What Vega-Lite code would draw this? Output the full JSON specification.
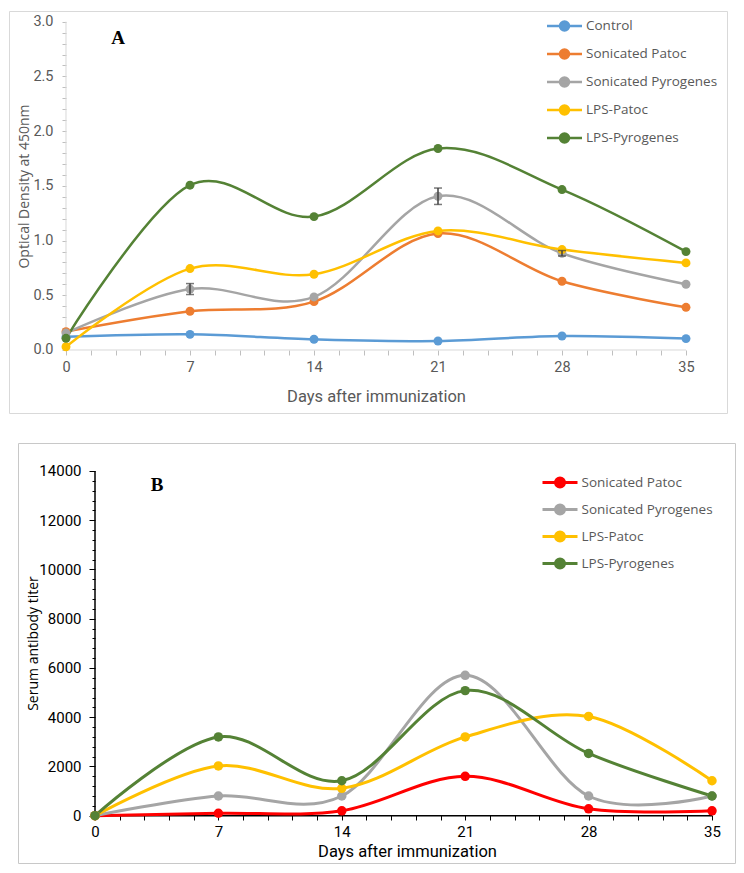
{
  "$schema": "https://vega.github.io/schema/vega-lite/v6.json",
  "padding": {"left": 8, "top": 10, "right": 0, "bottom": 0},
  "background": "white",
  "config": {"view": {"stroke": null}},
  "datasets": {
    "od": [
      {"series": "Control", "day": 0, "od": 0.12, "err": 0},
      {"series": "Control", "day": 7, "od": 0.143, "err": 0},
      {"series": "Control", "day": 14, "od": 0.098, "err": 0},
      {"series": "Control", "day": 21, "od": 0.082, "err": 0},
      {"series": "Control", "day": 28, "od": 0.128, "err": 0},
      {"series": "Control", "day": 35, "od": 0.104, "err": 0},
      {"series": "Sonicated Patoc", "day": 0, "od": 0.168, "err": 0},
      {"series": "Sonicated Patoc", "day": 7, "od": 0.354, "err": 0},
      {"series": "Sonicated Patoc", "day": 14, "od": 0.442, "err": 0},
      {"series": "Sonicated Patoc", "day": 21, "od": 1.064, "err": 0},
      {"series": "Sonicated Patoc", "day": 28, "od": 0.628, "err": 0},
      {"series": "Sonicated Patoc", "day": 35, "od": 0.39, "err": 0},
      {"series": "Sonicated Pyrogenes", "day": 0, "od": 0.155, "err": 0},
      {"series": "Sonicated Pyrogenes", "day": 7, "od": 0.557, "err": 0.05},
      {"series": "Sonicated Pyrogenes", "day": 14, "od": 0.485, "err": 0},
      {"series": "Sonicated Pyrogenes", "day": 21, "od": 1.405, "err": 0.075},
      {"series": "Sonicated Pyrogenes", "day": 28, "od": 0.884, "err": 0.025},
      {"series": "Sonicated Pyrogenes", "day": 35, "od": 0.601, "err": 0},
      {"series": "LPS-Patoc", "day": 0, "od": 0.03, "err": 0},
      {"series": "LPS-Patoc", "day": 7, "od": 0.744, "err": 0},
      {"series": "LPS-Patoc", "day": 14, "od": 0.692, "err": 0},
      {"series": "LPS-Patoc", "day": 21, "od": 1.088, "err": 0},
      {"series": "LPS-Patoc", "day": 28, "od": 0.918, "err": 0},
      {"series": "LPS-Patoc", "day": 35, "od": 0.796, "err": 0},
      {"series": "LPS-Pyrogenes", "day": 0, "od": 0.107, "err": 0},
      {"series": "LPS-Pyrogenes", "day": 7, "od": 1.506, "err": 0},
      {"series": "LPS-Pyrogenes", "day": 14, "od": 1.219, "err": 0},
      {"series": "LPS-Pyrogenes", "day": 21, "od": 1.841, "err": 0},
      {"series": "LPS-Pyrogenes", "day": 28, "od": 1.466, "err": 0},
      {"series": "LPS-Pyrogenes", "day": 35, "od": 0.899, "err": 0}
    ],
    "titer": [
      {"group": "Sonicated Patoc", "day": 0, "titer": 0},
      {"group": "Sonicated Patoc", "day": 7, "titer": 100},
      {"group": "Sonicated Patoc", "day": 14, "titer": 200},
      {"group": "Sonicated Patoc", "day": 21, "titer": 1600},
      {"group": "Sonicated Patoc", "day": 28, "titer": 280},
      {"group": "Sonicated Patoc", "day": 35, "titer": 200},
      {"group": "Sonicated Pyrogenes", "day": 0, "titer": 0},
      {"group": "Sonicated Pyrogenes", "day": 7, "titer": 800},
      {"group": "Sonicated Pyrogenes", "day": 14, "titer": 800},
      {"group": "Sonicated Pyrogenes", "day": 21, "titer": 5700},
      {"group": "Sonicated Pyrogenes", "day": 28, "titer": 800},
      {"group": "Sonicated Pyrogenes", "day": 35, "titer": 800},
      {"group": "LPS-Patoc", "day": 0, "titer": 0},
      {"group": "LPS-Patoc", "day": 7, "titer": 2020},
      {"group": "LPS-Patoc", "day": 14, "titer": 1110},
      {"group": "LPS-Patoc", "day": 21, "titer": 3200},
      {"group": "LPS-Patoc", "day": 28, "titer": 4030},
      {"group": "LPS-Patoc", "day": 35, "titer": 1420},
      {"group": "LPS-Pyrogenes", "day": 0, "titer": 0},
      {"group": "LPS-Pyrogenes", "day": 7, "titer": 3200},
      {"group": "LPS-Pyrogenes", "day": 14, "titer": 1420},
      {"group": "LPS-Pyrogenes", "day": 21, "titer": 5080},
      {"group": "LPS-Pyrogenes", "day": 28, "titer": 2530},
      {"group": "LPS-Pyrogenes", "day": 35, "titer": 800}
    ]
  },
  "resolve": {"scale": {"x": "independent", "y": "independent", "color": "independent"}, "legend": {"color": "independent"}},
  "spacing": 28,
  "vconcat": [
    {
      "width": 718,
      "height": 402,
      "view": {"stroke": "#d9d9d9", "strokeWidth": 1},
      "data": {"name": "od"},
      "encoding": {
        "x": {
          "field": "day", "type": "quantitative",
          "scale": {"domain": [-3.2177, 37.3145], "nice": false, "zero": false},
          "axis": {
            "orient": "bottom", "offset": -63,
            "values": [0,1.4,2.8,4.2,5.6,7,8.4,9.8,11.2,12.6,14,15.4,16.8,18.2,19.6,21,22.4,23.8,25.2,26.6,28,29.4,30.8,32.2,33.6,35],
            "domain": false, "grid": false, "tickColor": "#bfbfbf", "tickSize": 5,
            "format": "d", "labelExpr": "datum.value % 7 === 0 ? datum.label : ''",
            "labelOverlap": false, "labelFlush": false, "labelBound": false,
            "labelColor": "#595959", "labelFont": "Roboto", "labelFontSize": 14.5, "labelPadding": 5,
            "title": "Days after immunization", "titleFont": "Roboto", "titleFontSize": 16.5, "titleFontWeight": "normal",
            "titleColor": "#595959", "titleX": 367, "titleY": 46, "titleBaseline": "middle", "titleAlign": "center"
          }
        },
        "y": {
          "field": "od", "type": "quantitative",
          "scale": {"domain": [-0.5757, 3.0978], "nice": false, "zero": false},
          "axis": {
            "orient": "left", "offset": -57,
            "values": [0,0.1,0.2,0.3,0.4,0.5,0.6,0.7,0.8,0.9,1,1.1,1.2,1.3,1.4,1.5,1.6,1.7,1.8,1.9,2,2.1,2.2,2.3,2.4,2.5,2.6,2.7,2.8,2.9,3],
            "domain": false, "grid": false, "tickColor": "#bfbfbf", "tickSize": 4,
            "labelExpr": "round(datum.value * 10) % 5 === 0 ? format(datum.value, '.1f') : ''",
            "labelOverlap": false, "labelFlush": false, "labelBound": false,
            "labelColor": "#595959", "labelFont": "Roboto", "labelFontSize": 14.5, "labelPadding": 9,
            "title": "Optical Density at 450nm", "titleFont": "Open Sans", "titleFontSize": 14, "titleFontWeight": "normal",
            "titleColor": "#595959", "titleX": -35, "titleY": 175, "titleBaseline": "bottom", "titleAlign": "center", "titleAngle": -90
          }
        }
      },
      "layer": [
        {
          "transform": [{"filter": "datum.day === 0 && datum.series === 'Control'"}],
          "mark": {"type": "rule", "color": "#d9d9d9", "strokeWidth": 1},
          "encoding": {
            "y": {"datum": 0, "type": "quantitative"},
            "x2": {"datum": 35}
          }
        },
        {
          "transform": [{"filter": "datum.day === 0 && datum.series === 'Control'"}],
          "mark": {"type": "rule", "color": "#d9d9d9", "strokeWidth": 1},
          "encoding": {
            "y": {"datum": 0, "type": "quantitative"},
            "y2": {"datum": 3}
          }
        },
        {
          "mark": {"type": "line", "interpolate": "cardinal", "strokeWidth": 2.5, "point": {"filled": true, "size": 80, "opacity": 1}},
          "encoding": {
            "color": {
              "field": "series", "type": "nominal",
              "scale": {"domain": ["Control", "Sonicated Patoc", "Sonicated Pyrogenes", "LPS-Patoc", "LPS-Pyrogenes"], "range": ["#5B9BD5", "#ED7D31", "#A5A5A5", "#FFC000", "#548235"]},
              "legend": {
                "orient": "none", "legendX": 547, "legendY": 6.5, "title": null, "padding": 0,
                "symbolType": "M-2.5,0L2.5,0M-0.643,0A0.643,0.643,0,1,0,0.643,0A0.643,0.643,0,1,0,-0.643,0Z",
                "symbolSize": 196, "symbolStrokeWidth": 2.5, "symbolOpacity": 1,
                "labelFont": "Open Sans", "labelFontSize": 13.5, "labelColor": "#595959", "labelOffset": 13, "rowPadding": 7
              }
            }
          }
        },
        {
          "transform": [{"filter": "datum.err > 0"}],
          "mark": {"type": "errorbar", "color": "#404040", "thickness": 1.5, "ticks": {"size": 8, "thickness": 1.5, "color": "#404040"}},
          "encoding": {
            "yError": {"field": "err"}
          }
        },
        {
          "transform": [{"filter": "datum.day === 0 && datum.series === 'Control'"}],
          "mark": {"type": "text", "text": "A", "font": "Liberation Serif", "fontWeight": "bold", "fontSize": 19, "color": "black"},
          "encoding": {
            "x": {"datum": 2.94, "type": "quantitative"},
            "y": {"datum": 2.85, "type": "quantitative"}
          }
        }
      ]
    },
    {
      "spacing": 0,
      "hconcat": [
        {
          "width": 8,
          "height": 10,
          "view": {"stroke": null},
          "data": {"values": [{}]},
          "mark": {"type": "point", "opacity": 0}
        },
        {
          "width": 717,
          "height": 420,
          "view": {"stroke": "#c8c8c8", "strokeWidth": 1},
          "data": {"name": "titer"},
          "encoding": {
            "x": {
              "field": "day", "type": "quantitative",
              "scale": {"domain": [-4.368, 36.305], "nice": false, "zero": false},
              "axis": {
                "orient": "bottom", "offset": -48,
                "values": [0,1.4,2.8,4.2,5.6,7,8.4,9.8,11.2,12.6,14,15.4,16.8,18.2,19.6,21,22.4,23.8,25.2,26.6,28,29.4,30.8,32.2,33.6,35],
                "domain": false, "grid": false, "tickColor": "black", "tickSize": 5, "tickWidth": 1,
                "format": "d", "labelExpr": "datum.value % 7 === 0 ? datum.label : ''",
                "labelOverlap": false, "labelFlush": false, "labelBound": false,
                "labelColor": "black", "labelFont": "Roboto", "labelFontSize": 15, "labelPadding": 4,
                "title": "Days after immunization", "titleFont": "Roboto", "titleFontSize": 16.5, "titleFontWeight": "normal",
                "titleColor": "black", "titleX": 389, "titleY": 36, "titleBaseline": "middle", "titleAlign": "center"
              }
            },
            "y": {
              "field": "titer", "type": "quantitative",
              "scale": {"domain": [-1921, 15137], "nice": false, "zero": false},
              "axis": {
                "orient": "left", "offset": -77,
                "values": [0,400,800,1200,1600,2000,2400,2800,3200,3600,4000,4400,4800,5200,5600,6000,6400,6800,7200,7600,8000,8400,8800,9200,9600,10000,10400,10800,11200,11600,12000,12400,12800,13200,13600,14000],
                "domain": false, "grid": false, "tickColor": "black", "tickWidth": 1,
                "tickSize": {"condition": {"test": "datum.value % 2000 === 0", "value": 6}, "value": 3},
                "format": "d", "labelExpr": "datum.value % 2000 === 0 ? datum.label : ''",
                "labelOverlap": false, "labelFlush": false, "labelBound": false,
                "labelColor": "black", "labelFont": "Roboto", "labelFontSize": 15, "labelPadding": 8,
                "title": "Serum antibody titer", "titleFont": "Open Sans", "titleFontSize": 14, "titleFontWeight": "normal",
                "titleColor": "black", "titleX": -55, "titleY": 200, "titleBaseline": "bottom", "titleAlign": "center", "titleAngle": -90
              }
            }
          },
          "layer": [
            {
              "transform": [{"filter": "datum.day === 0 && datum.group === 'LPS-Patoc'"}],
              "mark": {"type": "rule", "color": "black", "strokeWidth": 1.5},
              "encoding": {
                "y": {"datum": 0, "type": "quantitative"},
                "x2": {"datum": 35}
              }
            },
            {
              "transform": [{"filter": "datum.day === 0 && datum.group === 'LPS-Patoc'"}],
              "mark": {"type": "rule", "color": "black", "strokeWidth": 1.5},
              "encoding": {
                "y": {"datum": 0, "type": "quantitative"},
                "y2": {"datum": 14000}
              }
            },
            {
              "mark": {"type": "line", "interpolate": "cardinal", "strokeWidth": 3, "point": {"filled": true, "size": 90, "opacity": 1}},
              "encoding": {
                "color": {
                  "field": "group", "type": "nominal",
                  "scale": {"domain": ["Sonicated Patoc", "Sonicated Pyrogenes", "LPS-Patoc", "LPS-Pyrogenes"], "range": ["#FF0000", "#A5A5A5", "#FFC000", "#548235"]},
                  "legend": {
                    "orient": "none", "legendX": 542.5, "legendY": 31, "title": null, "padding": 0,
                    "symbolType": "M-2.5,0L2.5,0M-0.643,0A0.643,0.643,0,1,0,0.643,0A0.643,0.643,0,1,0,-0.643,0Z",
                    "symbolSize": 196, "symbolStrokeWidth": 3, "symbolOpacity": 1,
                    "labelFont": "Open Sans", "labelFontSize": 13.5, "labelColor": "#595959", "labelOffset": 13, "rowPadding": 4
                  }
                }
              }
            },
            {
              "transform": [{"filter": "datum.day === 0 && datum.group === 'LPS-Patoc'"}],
              "mark": {"type": "text", "text": "B", "font": "Liberation Serif", "fontWeight": "bold", "fontSize": 19, "color": "black"},
              "encoding": {
                "x": {"datum": 3.52, "type": "quantitative"},
                "y": {"datum": 13432, "type": "quantitative"}
              }
            }
          ]
        }
      ]
    }
  ]
}
